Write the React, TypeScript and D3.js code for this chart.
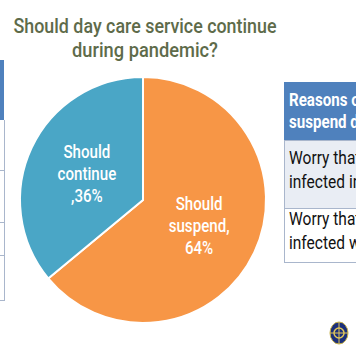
import React from "react";
import * as d3 from "d3";

const titleLines = ["Should day care service continue", "during pandemic?"];
const titleWidths = [263, 146];
const categories = ["Should suspend", "Should continue"];
const values = [64, 36];
const sliceLabels = [["Should", "suspend,", "64%"], ["Should", "continue", ",36%"]];
const colors = ["#F79646", "#4AA6C6"];
const tableHeader = ["Reasons of", "suspend day care"];
const tableRows = [["Worry that children", "infected in centres"], ["Worry that children", "infected when outside"]];

const W = 356, H = 364;
const cx = 143, cy = 200, R = 123;
const FONT = "Roboto, 'Liberation Sans', Arial, sans-serif";
const SX = 0.84;

function CText(props: { x: number; y: number; anchor?: string; size: number; weight?: any; fill: string; children: any }) {
  const { x, y, anchor, size, weight, fill, children } = props;
  return (
    <text transform={`translate(${x},${y}) scale(${SX},1)`} textAnchor={anchor || "start"} fontSize={size} fontWeight={weight || "normal"} fill={fill}>
      {children}
    </text>
  );
}

export default function App() {
  const data = categories.map((c, i) => ({ c, v: values[i], i }));
  const pie = d3.pie<any>().sort(null).value((d: any) => d.v);
  const arcs = pie(data);
  const arc = d3.arc<any>().innerRadius(0).outerRadius(R);
  const labelArc = d3.arc<any>().innerRadius(0).outerRadius(124);

  const tx = 284;
  const rowY = [82, 140, 208, 262];

  return (
    <svg width={W} height={H} style={{ position: "absolute", left: 0, top: 0, background: "#fff" }} fontFamily={FONT}>
      <rect width={W} height={H} fill="#fff" />
      {/* left partial table */}
      <rect x={0} y={60} width={4} height={60} fill="#4F81BD" />
      <line x1={4.5} y1={120} x2={4.5} y2={300} stroke="#A9B6CC" strokeWidth={1} />
      {[170, 222, 255, 300].map((y) => (
        <line key={y} x1={0} y1={y + 0.5} x2={5} y2={y + 0.5} stroke="#A9B6CC" strokeWidth={1} />
      ))}
      {/* title */}
      {titleLines.map((t, i) => (
        <text key={i} x={145} y={33 + i * 24} textAnchor="middle" fontSize={20} fontWeight={500} fill="#5E6B4A"
          textLength={titleWidths[i]} lengthAdjust="spacingAndGlyphs">
          {t}
        </text>
      ))}
      {/* pie */}
      <g transform={`translate(${cx},${cy})`}>
        {arcs.map((a, i) => (
          <path key={i} d={arc(a) as string} fill={colors[i]} stroke="#fff" strokeWidth={2} strokeLinejoin="round" />
        ))}
        {arcs.map((a, i) => {
          const [lx, ly] = labelArc.centroid(a);
          return sliceLabels[i].map((ln, j) => (
            <CText key={i + "-" + j} x={lx} y={ly + (j - 1) * 22 + 6} anchor="middle" size={18} weight={500} fill="#fff">
              {ln}
            </CText>
          ));
        })}
      </g>
      {/* right partial table */}
      <rect x={tx} y={rowY[0]} width={W - tx} height={rowY[1] - rowY[0]} fill="#4F81BD" />
      <rect x={tx + 0.5} y={rowY[1] + 0.5} width={W - tx} height={rowY[2] - rowY[1]} fill="#E9EDF4" stroke="#A9B6CC" />
      <rect x={tx + 0.5} y={rowY[2] + 0.5} width={W - tx} height={rowY[3] - rowY[2]} fill="#fff" stroke="#A9B6CC" />
      {tableHeader.map((t, j) => (
        <CText key={"h" + j} x={tx + 5} y={106 + j * 22} size={18} weight="bold" fill="#fff">{t}</CText>
      ))}
      {tableRows.map((r, i) =>
        r.map((t, j) => (
          <CText key={"r" + i + j} x={tx + 5} y={164 + i * 61 + j * 24} size={18.5} fill="#111">{t}</CText>
        ))
      )}
      {/* logo */}
      <ellipse cx={339} cy={333} rx={9} ry={11} fill="#1B2F7A" stroke="#C8B24A" strokeWidth={1} />
      <circle cx={339} cy={333} r={5} fill="none" stroke="#E2C75A" strokeWidth={1.5} />
      <line x1={339} y1={322} x2={339} y2={344} stroke="#E2C75A" strokeWidth={1} />
      <line x1={330} y1={333} x2={348} y2={333} stroke="#E2C75A" strokeWidth={1} />
    </svg>
  );
}
